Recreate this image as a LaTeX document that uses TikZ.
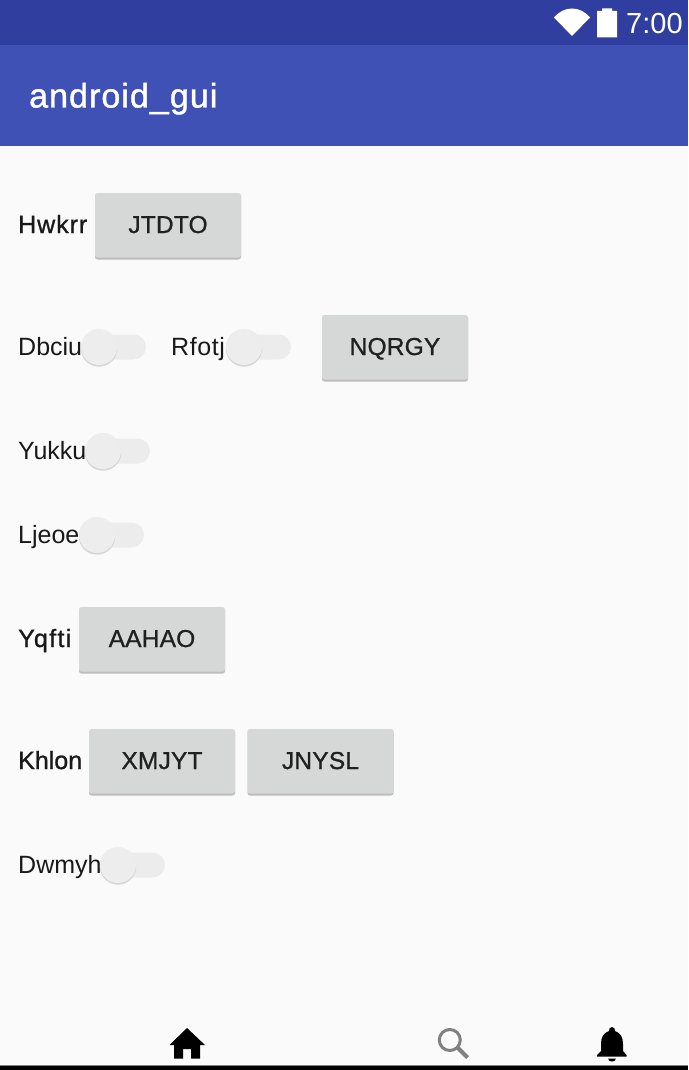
\documentclass[tikz,border=0pt]{standalone}
\usepackage{fontspec}
\setmainfont{Liberation Sans}
\newfontfamily\medfont[FakeBold=1]{Liberation Sans}
\newfontfamily\medwide[FakeBold=1,LetterSpace=3.8]{Liberation Sans}
\newfontfamily\medwider[FakeBold=1,LetterSpace=5.4]{Liberation Sans}
\newfontfamily\regwide[LetterSpace=2.4]{Liberation Sans}
\newfontfamily\medbtn[FakeBold=1,LetterSpace=0.8]{Liberation Sans}
\newfontfamily\medtitle[FakeBold=1.2,LetterSpace=3.1]{Liberation Sans}
\usetikzlibrary{calc}
\definecolor{statusc}{HTML}{303F9F}
\definecolor{barc}{HTML}{3F51B5}
\definecolor{bgc}{HTML}{FAFAFA}
\definecolor{btnc}{HTML}{D6D7D7}
\definecolor{btnshadow}{HTML}{BDBDBD}
\definecolor{trackc}{HTML}{ECECEC}
\definecolor{thumbc}{HTML}{EDEDED}
\definecolor{thumbshadow}{HTML}{D6D6D6}
\definecolor{btntext}{HTML}{202020}
\tikzset{
  lbl/.style={anchor=base west,inner sep=0pt,font=\fontsize{25}{25}\selectfont,text=black!90},
  lblw/.style={anchor=base west,inner sep=0pt,font=\regwide\fontsize{25}{25}\selectfont,text=black!90},
  lblm/.style={anchor=base west,inner sep=0pt,font=\medwide\fontsize{25}{25}\selectfont,text=black!90},
  lblx/.style={anchor=base west,inner sep=0pt,font=\medwider\fontsize{25}{25}\selectfont,text=black!90},
  btntxt/.style={anchor=base,inner sep=0pt,font=\medbtn\fontsize{24.5}{25}\selectfont,text=btntext},
  btnface/.style={fill=btnc,rounded corners=2.5pt},
  btnsh/.style={fill=btnshadow,rounded corners=2.5pt},
}
% button: x0, y0 (top-left), text, name
\newcommand{\btn}[4]{%
  \fill[btnsh] (#1,#2+1) rectangle (#1+146,#2+66.5);
  \fill[btnface] (#1,#2) rectangle (#1+146,#2+64.5);
  \node[btntxt] (#4) at (#1+73,#2+40) {#3};
}
% switch: thumb centre x, y, name
\newcommand{\swt}[3]{%
  \fill[trackc,rounded corners=12.5pt] (#1,#2-12.5) rectangle (#1+47,#2+12.5);
  \fill[thumbshadow] (#1,#2+1.5) circle (18.2);
  \fill[thumbc] (#1,#2) circle (18);
  \coordinate (#3) at (#1,#2);
}
\begin{document}
\begin{tikzpicture}[x=1pt,y=-1pt]
\useasboundingbox (0,0) rectangle (688,1070);
\fill[bgc] (0,0) rectangle (688,1070);
\fill[statusc] (0,0) rectangle (688,45);
\fill[barc] (0,45) rectangle (688,146);
% status icons
\fill[white] (554,17.5) .. controls (564,5.5) and (580,5.5) .. (590,17.5) -- (572,36) -- cycle;
\fill[white] (597,11) -- (602,11) -- (602,8.5) -- (612,8.5) -- (612,11) -- (617,11) -- (617,37.5) -- (597,37.5) -- cycle;
\node[anchor=base west,inner sep=0pt,font=\fontsize{29}{29}\selectfont,text=white] (clock) at (626,34) {7:00};
\node[anchor=base west,inner sep=0pt,font=\medtitle\fontsize{34}{34}\selectfont,text=white] (title) at (29,107.5) {android\_gui};
% rows
\node[lblm] (l1) at (18,233) {Hwkrr};
\btn{95}{193}{JTDTO}{b1}
\node[lbl] (l2) at (18,355) {Dbciu};
\swt{99}{347}{s1}
\node[lblw] (l3) at (171,355) {Rfotj};
\swt{244}{347}{s2}
\btn{322}{315}{NQRGY}{b2}
\node[lbl] (l4) at (18,459) {Yukku};
\swt{103}{451}{s3}
\node[lbl] (l5) at (18,543) {Ljeoe};
\swt{97}{535}{s4}
\node[lblx] (l6) at (18,647) {Yqfti};
\btn{79}{607}{AAHAO}{b3}
\node[anchor=base west,inner sep=0pt,font=\medfont\fontsize{25}{25}\selectfont,text=black!90] (l7) at (18,769) {Khlon};
\btn{89}{729}{XMJYT}{b4}
\btn{247.5}{729}{JNYSL}{b5}
\node[lbl] (l8) at (18,873) {Dwmyh};
\swt{118}{865}{s5}
% bottom
\fill[black!50] (0,1065) rectangle (688,1066);
\fill[black] (0,1066) rectangle (688,1070);
% home
\fill[black] (187,1028) -- (205,1045) -- (200,1045) -- (200,1058.5) -- (191,1058.5) -- (191,1049) -- (183,1049) -- (183,1058.5) -- (174,1058.5) -- (174,1045) -- (169.5,1045) -- cycle;
% search
\draw[black!50,line width=3pt] (449.8,1040) circle (10.5);
\draw[black!50,line width=4pt] (458,1048) -- (467.5,1057.5);
% bell
\fill[black] (612,1027) .. controls (614.5,1027) and (615,1029) .. (615,1031)
  .. controls (621,1033) and (623,1038) .. (623,1044) -- (623,1051) -- (626.5,1055) -- (626.5,1056.5) -- (597,1056.5) -- (597,1055) -- (601,1051) -- (601,1044)
  .. controls (601,1038) and (603,1033) .. (609,1031) .. controls (609,1029) and (609.5,1027) .. (612,1027) -- cycle;
\fill[black] (608,1058.5) -- (616,1058.5) .. controls (615.5,1062.5) and (608.5,1062.5) .. (608,1058.5) -- cycle;
\end{tikzpicture}
\end{document}
